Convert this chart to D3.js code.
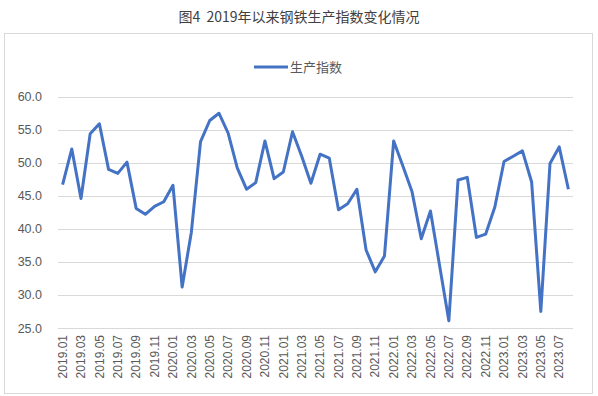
<!DOCTYPE html>
<html>
<head>
<meta charset="utf-8">
<script src="https://cdn.jsdelivr.net/npm/d3@7"></script>
<style>
    body { margin: 0; background: #fff; }
    svg { display: block; font-family: "Microsoft YaHei", "Noto Sans CJK SC", "Liberation Sans", sans-serif; }
</style>
</head>
<body>
<div id="chart"></div>
<script>
// Months 2019.01 - 2023.08
var months = [];
for (var yr = 2019; yr <= 2023; yr++) {
    for (var m = 1; m <= 12; m++) {
        if (yr === 2023 && m > 8) break;
        months.push(yr + '.' + (m < 10 ? '0' + m : m));
    }
}

var productionIndex = [
    46.7, 52.1, 44.6, 54.4, 55.9, 49.0, 48.4, 50.1, 43.1, 42.2, 43.4, 44.1,
    46.6, 31.2, 39.5, 53.2, 56.4, 57.5, 54.5, 49.2, 46.0, 47.0, 53.3, 47.6,
    48.6, 54.7, 51.0, 46.9, 51.3, 50.7, 42.9, 43.8, 46.0, 36.8, 33.5, 35.9,
    53.3, 49.5, 45.6, 38.5, 42.7, 34.4, 26.1, 47.4, 47.8, 38.7, 39.2, 43.3,
    50.2, 51.0, 51.8, 47.1, 27.5, 49.9, 52.4, 46.0
];

var yTicks = [25, 30, 35, 40, 45, 50, 55, 60];
var seriesName = '生产指数';
var title = '图4  2019年以来钢铁生产指数变化情况';

var width = 598, height = 396;
var svg = d3.select('#chart').append('svg')
    .attr('width', width)
    .attr('height', height);

// Title (keep the double space)
svg.append('text')
    .attr('x', 299)
    .attr('y', 22)
    .attr('text-anchor', 'middle')
    .attr('font-size', 14)
    .attr('fill', '#404040')
    .style('white-space', 'pre')
    .text(title);

// Chart frame
svg.append('rect')
    .attr('x', 4.5).attr('y', 33.5)
    .attr('width', 588).attr('height', 360)
    .attr('fill', '#fff')
    .attr('stroke', '#d9d9d9');

var plot = {left: 58, right: 573, top: 96.7, bottom: 328};

var xScale = d3.scaleBand()
    .domain(months)
    .range([plot.left, plot.right]);

var yScale = d3.scaleLinear()
    .domain([25, 60])
    .range([plot.bottom, plot.top]);

// Grid lines
svg.append('g')
    .selectAll('line')
    .data(yTicks).enter()
    .append('line')
        .attr('x1', plot.left)
        .attr('x2', plot.right)
        .attr('y1', d => Math.round(yScale(d)) + 0.5)
        .attr('y2', d => Math.round(yScale(d)) + 0.5)
        .attr('stroke', '#d9d9d9')
        .attr('stroke-width', 1);

// Y axis labels
var yAxis = svg.append('g')
    .attr('transform', 'translate(' + (plot.left - 13) + ',0)')
    .call(d3.axisLeft(yScale).tickValues(yTicks).tickFormat(d3.format('.1f')).tickSize(0));
yAxis.select('.domain').remove();
yAxis.selectAll('text')
    .attr('font-size', 12.5)
    .attr('fill', '#595959')
    .attr('font-family', '"Liberation Sans", Arial, sans-serif');

// X axis labels (every second month)
var xAxis = svg.append('g')
    .attr('transform', 'translate(0,' + (plot.bottom + 7) + ')')
    .call(d3.axisBottom(xScale)
        .tickValues(months.filter((d, i) => i % 2 === 0))
        .tickSize(0));
xAxis.select('.domain').remove();
xAxis.selectAll('text')
    .attr('font-size', 12)
    .attr('fill', '#595959')
    .attr('font-family', '"Liberation Sans", Arial, sans-serif')
    .attr('text-anchor', 'end')
    .attr('dy', '0.35em')
    .attr('dx', 0)
    .attr('y', 0)
    .attr('transform', 'rotate(-90)');

// Line
var line = d3.line()
    .x((d, i) => xScale(months[i]) + xScale.bandwidth() / 2)
    .y(d => yScale(d));

svg.append('path')
    .datum(productionIndex)
    .attr('fill', 'none')
    .attr('stroke', '#4472c4')
    .attr('stroke-width', 3)
    .attr('stroke-linejoin', 'round')
    .attr('d', line);

// Legend
svg.append('line')
    .attr('x1', 254).attr('x2', 288)
    .attr('y1', 67).attr('y2', 67)
    .attr('stroke', '#4472c4')
    .attr('stroke-width', 3);
svg.append('text')
    .attr('x', 290)
    .attr('y', 72)
    .attr('font-size', 13)
    .attr('fill', '#595959')
    .text(seriesName);
</script>
</body>
</html>
